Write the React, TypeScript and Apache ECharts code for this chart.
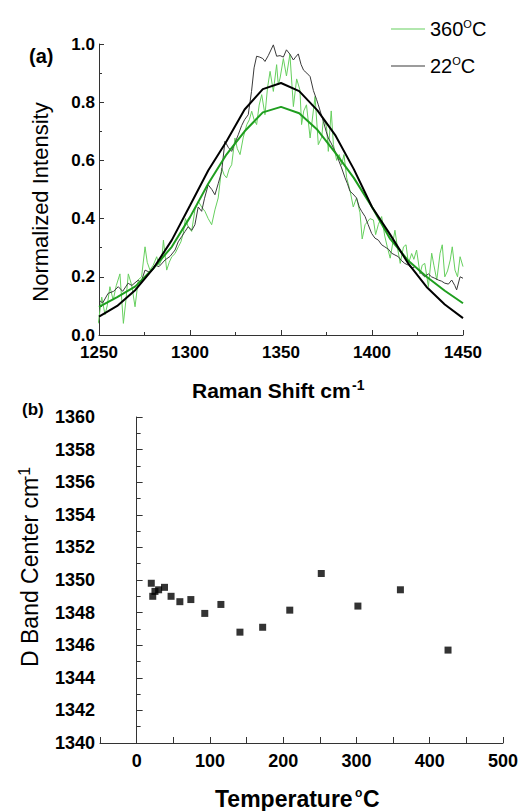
import React, { useEffect, useRef } from 'react';
import * as echarts from 'echarts';

// ---- Panel (a): Raman spectra ----
const fit22: number[][] = [
  [1250, 0.063], [1260, 0.1], [1270, 0.155], [1280, 0.23], [1290, 0.326], [1300, 0.445],
  [1310, 0.565], [1320, 0.665], [1330, 0.775], [1340, 0.845], [1350, 0.866], [1360, 0.838],
  [1370, 0.772], [1380, 0.685], [1390, 0.57], [1400, 0.44], [1410, 0.345], [1420, 0.245],
  [1430, 0.165], [1440, 0.105], [1450, 0.058],
];
const fit360: number[][] = [
  [1250, 0.097], [1260, 0.13], [1270, 0.167], [1280, 0.23], [1290, 0.303], [1300, 0.405],
  [1310, 0.52], [1320, 0.62], [1330, 0.7], [1340, 0.765], [1350, 0.784], [1360, 0.762],
  [1370, 0.705], [1380, 0.625], [1390, 0.54], [1400, 0.44], [1410, 0.33], [1420, 0.255],
  [1430, 0.2], [1440, 0.152], [1450, 0.109],
];
const raw22: number[][] = [
  [1250, 0.12], [1252, 0.11], [1255, 0.143], [1258, 0.15], [1260.6, 0.166], [1263, 0.15],
  [1266, 0.178], [1268, 0.17], [1271.6, 0.189], [1273, 0.18], [1275.3, 0.223], [1278, 0.215],
  [1280.8, 0.24], [1283, 0.235], [1286.3, 0.258], [1289, 0.27], [1291.8, 0.292], [1293.5, 0.32],
  [1295.4, 0.338], [1297.3, 0.356], [1299, 0.372], [1301, 0.36], [1302.7, 0.379], [1304.5, 0.44],
  [1306.4, 0.425], [1308, 0.47], [1310, 0.516], [1312, 0.5], [1313.7, 0.482], [1315.5, 0.52],
  [1317.4, 0.562], [1319.2, 0.666], [1321, 0.645], [1322.9, 0.631], [1324.7, 0.66], [1326.5, 0.688],
  [1328.4, 0.72], [1330, 0.74], [1332, 0.757], [1333.8, 0.837], [1335.2, 0.918], [1336.6, 0.958],
  [1338.3, 0.955], [1340, 0.95], [1341.2, 0.94], [1343, 0.96], [1345.8, 0.997], [1347.6, 0.958],
  [1349.5, 0.96], [1351.3, 0.955], [1353, 0.98], [1354.9, 0.965], [1356.8, 0.945], [1358, 0.955],
  [1359.5, 0.966], [1361, 0.93], [1362.4, 0.91], [1364.2, 0.9], [1366, 0.888], [1367.8, 0.84],
  [1369.5, 0.81], [1370.5, 0.791], [1372, 0.76], [1373.3, 0.734], [1374.8, 0.7], [1376, 0.677],
  [1377.5, 0.66], [1378.8, 0.643], [1380.6, 0.62], [1382, 0.595], [1383.3, 0.574], [1385.2, 0.54],
  [1386.5, 0.52], [1387.9, 0.494], [1389.5, 0.485], [1391.5, 0.471], [1393, 0.44], [1394.3, 0.425],
  [1396.2, 0.407], [1397.9, 0.379], [1399.8, 0.349], [1401.6, 0.333], [1403.5, 0.326], [1405.3, 0.31],
  [1407, 0.303], [1409, 0.295], [1410.8, 0.281], [1412.6, 0.275], [1414.5, 0.269], [1416.3, 0.255],
  [1418, 0.246], [1420, 0.24], [1421.8, 0.229], [1423.6, 0.235], [1425.4, 0.223], [1427.2, 0.21],
  [1429, 0.2], [1431, 0.21], [1432.7, 0.2], [1434.5, 0.195], [1436.4, 0.189], [1438.2, 0.185],
  [1440, 0.178], [1442, 0.175], [1443.8, 0.189], [1445.5, 0.17], [1446.5, 0.155], [1448.4, 0.2],
  [1450, 0.195],
];
const raw360: number[][] = [
  [1249.6, 0.04], [1251.5, 0.13], [1253.3, 0.07], [1254.5, 0.1], [1256, 0.166], [1257.8, 0.12],
  [1259.5, 0.17], [1261.5, 0.21], [1263.4, 0.04], [1264.8, 0.12], [1266.1, 0.21], [1268, 0.17],
  [1269.8, 0.097], [1271.6, 0.19], [1273.4, 0.2], [1275.3, 0.303], [1276.5, 0.25], [1278, 0.223],
  [1279.8, 0.24], [1281.7, 0.269], [1283, 0.24], [1284.5, 0.26], [1285.4, 0.326], [1287.2, 0.223],
  [1288.6, 0.25], [1290, 0.269], [1291.8, 0.28], [1293.6, 0.303], [1295, 0.32], [1296.3, 0.35],
  [1297.5, 0.4], [1299, 0.372], [1300.9, 0.356], [1302.7, 0.43], [1304.6, 0.459], [1306.4, 0.44],
  [1308.2, 0.425], [1310, 0.4], [1311.9, 0.379], [1313.7, 0.43], [1315.5, 0.471], [1317.4, 0.574],
  [1318.8, 0.55], [1320.1, 0.54], [1321.5, 0.57], [1322.9, 0.585], [1324.7, 0.677], [1326, 0.64],
  [1327.5, 0.62], [1329.3, 0.68], [1331.2, 0.723], [1332.6, 0.74], [1333.9, 0.769], [1335.2, 0.74],
  [1336.6, 0.723], [1338, 0.79], [1339.4, 0.826], [1341.2, 0.757], [1342.6, 0.85], [1344, 0.906],
  [1345.8, 0.837], [1347.6, 0.929], [1348.5, 0.86], [1349.5, 0.883], [1351.3, 0.95], [1353, 0.89],
  [1354.9, 0.965], [1356.8, 0.785], [1358.6, 0.88], [1360.4, 0.842], [1361.3, 0.723], [1362.5, 0.77],
  [1364, 0.791], [1366, 0.677], [1368.7, 0.82], [1370.5, 0.654], [1372.4, 0.68], [1373.3, 0.745],
  [1375, 0.716], [1376, 0.631], [1377.6, 0.77], [1378.8, 0.654], [1380.6, 0.6], [1382, 0.62],
  [1383.3, 0.585], [1384.6, 0.62], [1386.1, 0.54], [1388, 0.494], [1389.7, 0.44], [1391.5, 0.471],
  [1393.4, 0.42], [1394.6, 0.33], [1396.2, 0.379], [1398.9, 0.4], [1400.8, 0.395], [1402, 0.345],
  [1403.5, 0.38], [1405.3, 0.407], [1407, 0.34], [1408.5, 0.3], [1410, 0.264], [1412.6, 0.36],
  [1414, 0.3], [1415.5, 0.246], [1417.3, 0.303], [1418.7, 0.31], [1420, 0.246], [1421.8, 0.28],
  [1423, 0.26], [1424.5, 0.292], [1426.4, 0.21], [1427.6, 0.24], [1429, 0.246], [1431, 0.166],
  [1432.8, 0.281], [1434, 0.24], [1435.6, 0.189], [1437.4, 0.281], [1438.6, 0.31], [1440, 0.2],
  [1441.5, 0.22], [1443, 0.258], [1444.1, 0.303], [1445.6, 0.223], [1447, 0.2], [1448.4, 0.269],
  [1450, 0.235],
];

// ---- Panel (b): D band center vs temperature ----
const temps: number[] = [20, 22, 25, 30, 38, 47, 59, 74, 93, 115, 141, 172, 209, 252, 302, 360, 425];
const centers: number[] = [
  1349.8, 1349.0, 1349.3, 1349.4, 1349.55, 1349.0, 1348.67, 1348.8, 1347.95, 1348.5,
  1346.8, 1347.1, 1348.15, 1350.4, 1348.4, 1349.4, 1345.7,
];

const FONT = '"Liberation Sans", Arial, sans-serif';
const AX = '#333';

export default function App() {
  const ref = useRef<HTMLDivElement>(null);
  useEffect(() => {
    if (!ref.current) return;
    const chart = echarts.init(ref.current, undefined, { renderer: 'svg' });
    const axisCommon = {
      axisLine: { show: true, lineStyle: { color: AX, width: 1 } },
      splitLine: { show: false },
      minorSplitLine: { show: false },
    };
    const labelTop = { color: '#000', fontFamily: FONT, fontWeight: 'bold' as const, fontSize: 17, lineHeight: 17 };
    const labelBottom = { color: '#000', fontFamily: FONT, fontWeight: 'bold' as const, fontSize: 18 };
    chart.setOption({
      animation: false,
      backgroundColor: '#fff',
      legend: {
        data: ['360°C', '22°C'],
        orient: 'vertical',
        left: 386,
        top: 13,
        icon: 'rect',
        itemWidth: 34,
        itemHeight: 1,
        itemGap: 16,
        formatter: (name: string) =>
          name === '360°C' ? '{n|360}{s|O}{n|C}' : '{n|22}{s|O}{n|C}',
        textStyle: {
          color: '#000',
          fontFamily: FONT,
          rich: {
            n: { fontSize: 20, fontFamily: FONT, color: '#000', lineHeight: 22 },
            s: { fontSize: 11, fontFamily: FONT, color: '#000', verticalAlign: 'top', lineHeight: 12 },
          },
        },
      },
      grid: [
        { left: 99, right: 58, top: 44, height: 291 },
        { left: 100, right: 17, top: 417, height: 326 },
      ],
      xAxis: [
        {
          type: 'value', gridIndex: 0, min: 1250, max: 1450, interval: 50,
          ...axisCommon,
          axisTick: { show: true, inside: true, length: 5, lineStyle: { color: AX } },
          minorTick: { show: true, splitNumber: 2, length: 3, lineStyle: { color: AX } },
          axisLabel: { ...labelTop, margin: 9, formatter: (v: number) => String(v) },
        },
        {
          type: 'value', gridIndex: 1, min: -50, max: 500, interval: 50,
          ...axisCommon,
          axisTick: { show: true, inside: true, length: 6, lineStyle: { color: AX } },
          minorTick: { show: false },
          axisLabel: {
            ...labelBottom, margin: 9,
            formatter: (v: number) => (v >= 0 && v % 100 === 0 ? String(v) : ''),
          },
        },
      ],
      yAxis: [
        {
          type: 'value', gridIndex: 0, min: 0, max: 1, interval: 0.2,
          ...axisCommon,
          axisTick: { show: true, inside: true, length: 5, lineStyle: { color: AX } },
          minorTick: { show: true, splitNumber: 2, length: 3, lineStyle: { color: AX } },
          axisLabel: { ...labelTop, margin: 4, formatter: (v: number) => v.toFixed(1) },
        },
        {
          type: 'value', gridIndex: 1, min: 1340, max: 1360, interval: 2,
          ...axisCommon,
          axisTick: { show: true, inside: true, length: 6, lineStyle: { color: AX } },
          minorTick: { show: true, splitNumber: 2, length: 4, lineStyle: { color: AX } },
          axisLabel: { ...labelBottom, margin: 5, formatter: (v: number) => String(v) },
        },
      ],
      series: [
        {
          name: '360°C', type: 'line', xAxisIndex: 0, yAxisIndex: 0, data: raw360,
          symbol: 'none', lineStyle: { color: '#66cf5e', width: 1 }, itemStyle: { color: '#66cf5e' },
        },
        {
          name: '22°C', type: 'line', xAxisIndex: 0, yAxisIndex: 0, data: raw22,
          symbol: 'none', lineStyle: { color: '#3a3a3a', width: 1 }, itemStyle: { color: '#3a3a3a' },
        },
        {
          name: 'fit 360', type: 'line', xAxisIndex: 0, yAxisIndex: 0, data: fit360,
          symbol: 'none', lineStyle: { color: '#1f9e1f', width: 2 },
        },
        {
          name: 'fit 22', type: 'line', xAxisIndex: 0, yAxisIndex: 0, data: fit22,
          symbol: 'none', lineStyle: { color: '#000', width: 2 },
        },
        {
          name: 'D band', type: 'scatter', xAxisIndex: 1, yAxisIndex: 1,
          data: temps.map((t, i) => [t, centers[i]]),
          symbol: 'rect', symbolSize: 7, itemStyle: { color: '#000' },
        },
      ],
      graphic: [
        { type: 'text', x: 29, y: 56, style: { text: '(a)', font: `bold 20px ${FONT}`, fill: '#000', textAlign: 'left', textVerticalAlign: 'middle' } },
        { type: 'text', x: 40, y: 202, rotation: Math.PI / 2, style: { text: 'Normalized Intensity', font: `22px ${FONT}`, fill: '#000', textAlign: 'center', textVerticalAlign: 'middle' } },
        { type: 'text', x: 192, y: 390, style: { text: 'Raman Shift cm', font: `bold 21px ${FONT}`, fill: '#000', textAlign: 'left', textVerticalAlign: 'middle' } },
        { type: 'text', x: 352, y: 385, style: { text: '-1', font: `bold 14px ${FONT}`, fill: '#000', textAlign: 'left', textVerticalAlign: 'middle' } },
        { type: 'text', x: 22, y: 409, style: { text: '(b)', font: `bold 17px ${FONT}`, fill: '#000', textAlign: 'left', textVerticalAlign: 'middle' } },
        { type: 'text', x: 30, y: 667, rotation: Math.PI / 2, style: { text: 'D Band Center cm', font: `23px ${FONT}`, fill: '#000', textAlign: 'left', textVerticalAlign: 'middle' } },
        { type: 'text', x: 24, y: 481, rotation: Math.PI / 2, style: { text: '-1', font: `16px ${FONT}`, fill: '#000', textAlign: 'left', textVerticalAlign: 'middle' } },
        { type: 'text', x: 215, y: 799, style: { text: 'Temperature', font: `bold 23px ${FONT}`, fill: '#000', textAlign: 'left', textVerticalAlign: 'middle' } },
        { type: 'text', x: 355, y: 793, style: { text: 'o', font: `bold 12px ${FONT}`, fill: '#000', textAlign: 'left', textVerticalAlign: 'middle' } },
        { type: 'text', x: 363, y: 799, style: { text: 'C', font: `bold 23px ${FONT}`, fill: '#000', textAlign: 'left', textVerticalAlign: 'middle' } },
      ],
    });
    return () => chart.dispose();
  }, []);
  return (
    <div
      ref={ref}
      style={{ position: 'fixed', left: 0, top: 0, width: 521, height: 811, background: '#fff' }}
    />
  );
}
